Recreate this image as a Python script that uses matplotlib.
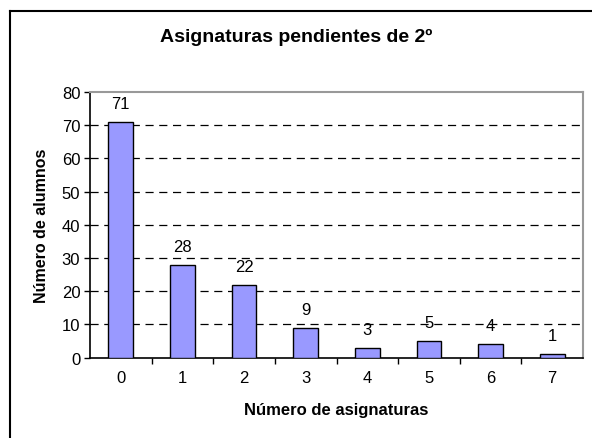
import matplotlib
matplotlib.use("Agg")
import matplotlib.pyplot as plt
from matplotlib.lines import Line2D

# data
categories = ["0", "1", "2", "3", "4", "5", "6", "7"]
alumnos = [71, 28, 22, 9, 3, 5, 4, 1]

plt.rcParams['font.family'] = ['Liberation Sans', 'DejaVu Sans']

W, H = 592, 439
fig = plt.figure(figsize=(W / 100, H / 100), dpi=100)
ax = fig.add_axes([90 / W, 1 - 358.7 / H, (583 - 90) / W, (358.7 - 93) / H])

x = list(range(len(categories)))
ax.bar(x, alumnos, width=0.4, color="#9999FF", edgecolor="black", linewidth=1.0, zorder=3)

for xi, v in zip(x, alumnos):
    ax.annotate(str(v), (xi, v), xytext=(0, 8), textcoords="offset points",
                ha="center", va="bottom", fontsize=12, zorder=4)

ax.set_xlim(-0.5, len(categories) - 0.5)
ax.set_ylim(0, 80)
ax.set_yticks(range(0, 81, 10))
ax.set_xticks(x)
ax.set_xticklabels(categories)
ax.set_xticks([i + 0.5 for i in x[:-1]], minor=True)
ax.tick_params(axis="x", which="major", length=0, pad=9, labelsize=12)
ax.tick_params(axis="x", which="minor", length=4, width=1, direction="out")
ax.tick_params(axis="y", length=4, width=1, direction="out", pad=3, labelsize=12)

for yv in range(10, 80, 10):
    ax.axhline(yv, color="black", linestyle=(0, (6.5, 4.5)), linewidth=0.9, zorder=1)

ax.spines["left"].set_color("black")
ax.spines["bottom"].set_color("black")
ax.spines["left"].set_linewidth(1.2)
ax.spines["bottom"].set_linewidth(1.2)
ax.spines["top"].set_color("#999999")
ax.spines["right"].set_color("#999999")
ax.spines["top"].set_linewidth(1.5)
ax.spines["right"].set_linewidth(1.5)

ax.set_ylabel("Número de alumnos", fontsize=11.5, fontweight="bold", labelpad=9)
ax.set_xlabel("Número de asignaturas", fontsize=12, fontweight="bold", labelpad=12)
fig.text(296 / W, 1 - 37 / H, "Asignaturas pendientes de 2º", ha="center", va="center",
         fontsize=14, fontweight="bold")

# outer chart border (only left and top edges are visible)
fig.add_artist(Line2D([10 / W, 10 / W], [0, 1 - 12 / H], transform=fig.transFigure,
                      color="black", linewidth=1.5))
fig.add_artist(Line2D([10 / W, 1], [1 - 12 / H, 1 - 12 / H], transform=fig.transFigure,
                      color="black", linewidth=1.5))

fig.savefig("out.png", dpi=100)
